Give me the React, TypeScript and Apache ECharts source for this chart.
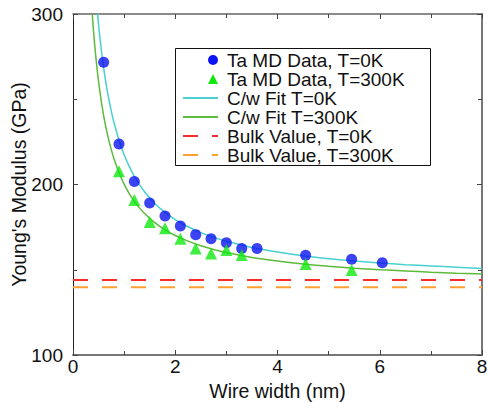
import React, { useEffect, useRef } from "react";
import * as echarts from "echarts";

// Ta MD data, T=0K (wire width nm, Young's modulus GPa)
const md0kX = [0.6, 0.9, 1.2, 1.5, 1.8, 2.1, 2.4, 2.7, 3.0, 3.3, 3.6, 4.55, 5.45, 6.05];
const md0kY = [271.7, 223.8, 201.8, 189.2, 181.5, 175.7, 170.6, 168.2, 165.9, 162.4, 162.4, 158.5, 156.1, 154.1];

// Ta MD data, T=300K
const md300kX = [0.9, 1.2, 1.5, 1.8, 2.1, 2.4, 2.7, 3.0, 3.3, 4.55, 5.45];
const md300kY = [207.7, 190.9, 178.0, 174.3, 168.2, 162.4, 159.6, 161.6, 158.7, 153.4, 149.9];

// C/w fit curves
const fit0kX = [0.48, 0.52, 0.56, 0.6, 0.65, 0.7, 0.75, 0.8, 0.9, 1.0, 1.1, 1.2, 1.3, 1.4, 1.6, 1.8, 2.0, 2.25, 2.5, 2.75, 3.0, 3.5, 4.0, 4.5, 5.0, 5.5, 6.0, 6.5, 7.0, 7.5, 8.0];
const fit0kY = [300.0, 287.8, 277.4, 268.3, 258.5, 250.2, 242.9, 236.5, 226.0, 217.5, 210.6, 204.8, 199.9, 195.7, 188.9, 183.6, 179.4, 175.2, 171.8, 169.0, 166.7, 163.1, 160.4, 158.2, 156.5, 155.2, 154.0, 153.0, 152.2, 151.5, 150.8];
const fit300kX = [0.376, 0.4, 0.43, 0.46, 0.5, 0.55, 0.6, 0.65, 0.7, 0.75, 0.8, 0.9, 1.0, 1.1, 1.2, 1.3, 1.4, 1.6, 1.8, 2.0, 2.25, 2.5, 2.75, 3.0, 3.5, 4.0, 4.5, 5.0, 5.5, 6.0, 6.5, 7.0, 7.5, 8.0];
const fit300kY = [300.0, 290.5, 280.0, 270.9, 260.4, 249.5, 240.3, 232.6, 226.0, 220.3, 215.3, 206.9, 200.2, 194.7, 190.2, 186.3, 183.0, 177.6, 173.4, 170.1, 166.8, 164.1, 161.9, 160.1, 157.2, 155.1, 153.4, 152.0, 150.9, 150.0, 149.3, 148.6, 148.0, 147.5];

// Bulk values
const bulkX = [0, 8];
const bulk0k = 144;
const bulk300k = 139.7;

// Axis ticks
const xMin = 0, xMax = 8, xInterval = 2;
const yMin = 100, yMax = 300, yInterval = 100;

const names = {
  md0: "Ta MD Data, T=0K",
  md300: "Ta MD Data, T=300K",
  fit0: "C/w Fit T=0K",
  fit300: "C/w Fit T=300K",
  bulk0: "Bulk Value, T=0K",
  bulk300: "Bulk Value, T=300K",
};

// legend icons for the data markers, placed at the right end of the icon box
const circleIcon = "path://M0 1 M25 6 A5 5 0 1 0 35 6 A5 5 0 1 0 25 6 Z";
const triangleIcon = "path://M0 1 M25 11 L30 1 L35 11 Z";

const zip = (xs: number[], ys: number[]) => xs.map((x, i) => [x, ys[i]]);

export default function App() {
  const ref = useRef<HTMLDivElement>(null);
  useEffect(() => {
    if (!ref.current) return;
    const chart = echarts.init(ref.current, undefined, { renderer: "svg" });
    const font = "Liberation Sans";
    const tickCommon = {
      axisTick: { show: true, inside: true, length: 5, lineStyle: { color: "#444", width: 1 } },
      minorTick: { show: true, splitNumber: 2, length: 4, lineStyle: { color: "#444", width: 1 } },
      splitLine: { show: false },
      minorSplitLine: { show: false },
    };
    chart.setOption({
      animation: false,
      textStyle: { fontFamily: font },
      grid: { left: 73, right: 5, top: 14, bottom: 47, containLabel: false, outerBoundsMode: "none" },
      xAxis: [
        {
          type: "value", min: xMin, max: xMax, interval: xInterval, position: "bottom",
          name: "Wire width (nm)", nameLocation: "middle", nameGap: 17,
          nameTextStyle: { fontSize: 19.5, color: "#111", fontFamily: font },
          axisLine: { show: true, onZero: false, lineStyle: { color: "#777", width: 2 } },
          axisLabel: { fontSize: 19, color: "#111", margin: 2, fontFamily: font },
          ...tickCommon,
        },
        {
          type: "value", min: xMin, max: xMax, interval: xInterval, position: "top",
          axisLine: { show: true, onZero: false, lineStyle: { color: "#666", width: 1.5 } },
          axisLabel: { show: false },
          ...tickCommon,
        },
      ],
      yAxis: [
        {
          type: "value", min: yMin, max: yMax, interval: yInterval, position: "left",
          name: "Young's Modulus (GPa)", nameLocation: "middle", nameGap: 44, nameMoveOverlap: false,
          nameTextStyle: { fontSize: 19.5, color: "#111", fontFamily: font },
          axisLine: { show: true, onZero: false, lineStyle: { color: "#222", width: 1 } },
          axisLabel: { fontSize: 19, color: "#111", margin: 10, fontFamily: font },
          ...tickCommon,
        },
        {
          type: "value", min: yMin, max: yMax, interval: yInterval, position: "right",
          axisLine: { show: true, onZero: false, lineStyle: { color: "#777", width: 2 } },
          axisLabel: { show: false },
          ...tickCommon,
        },
      ],
      legend: {
        data: [
          { name: names.md0, icon: circleIcon, itemStyle: { opacity: 1 } },
          { name: names.md300, icon: triangleIcon, itemStyle: { opacity: 1 } },
          names.fit0,
          names.fit300,
          names.bulk0,
          names.bulk300,
        ],
        orient: "vertical", left: 182, top: 50.5, padding: 0,
        itemWidth: 35, itemHeight: 12, itemGap: 0,
        selectedMode: false,
        itemStyle: { opacity: 0 },
        textStyle: { fontSize: 19, lineHeight: 17.6, color: "#111", fontFamily: font, padding: [0, 0, 0, 4] },
      },
      graphic: [
        {
          type: "rect", left: 173, top: 46, z: 1,
          shape: { width: 255, height: 117 },
          style: { fill: "none", stroke: "#111", lineWidth: 1 },
        },
      ],
      series: [
        {
          name: names.fit0, type: "line", data: zip(fit0kX, fit0kY), showSymbol: false, symbol: "none",
          smooth: 0.3,
          lineStyle: { color: "#48d0d0", width: 1.5 }, itemStyle: { color: "#48d0d0" }, z: 2,
        },
        {
          name: names.fit300, type: "line", data: zip(fit300kX, fit300kY), showSymbol: false, symbol: "none",
          smooth: 0.3,
          lineStyle: { color: "#5cbb3a", width: 1.5 }, itemStyle: { color: "#5cbb3a" }, z: 2,
        },
        {
          name: names.bulk0, type: "line", data: bulkX.map((x) => [x, bulk0k]), symbol: "none",
          lineStyle: { color: "#ff2a2a", width: 2, type: [15, 14] }, itemStyle: { color: "#ff2a2a" }, z: 2,
        },
        {
          name: names.bulk300, type: "line", data: bulkX.map((x) => [x, bulk300k]), symbol: "none",
          lineStyle: { color: "#ffa032", width: 2, type: [15, 14] }, itemStyle: { color: "#ffa032" }, z: 2,
        },
        {
          name: names.md0, type: "scatter", data: zip(md0kX, md0kY), symbol: "circle", symbolSize: 11,
          itemStyle: { color: "#0a14f0" }, z: 3,
        },
        {
          name: names.md300, type: "scatter", data: zip(md300kX, md300kY), symbol: "triangle", symbolSize: 12,
          itemStyle: { color: "#10e810" }, z: 3,
        },
      ],
    });
    return () => chart.dispose();
  }, []);
  return (
    <div
      ref={ref}
      style={{ position: "fixed", left: 0, top: 0, width: 487, height: 402, background: "#fff" }}
    />
  );
}
